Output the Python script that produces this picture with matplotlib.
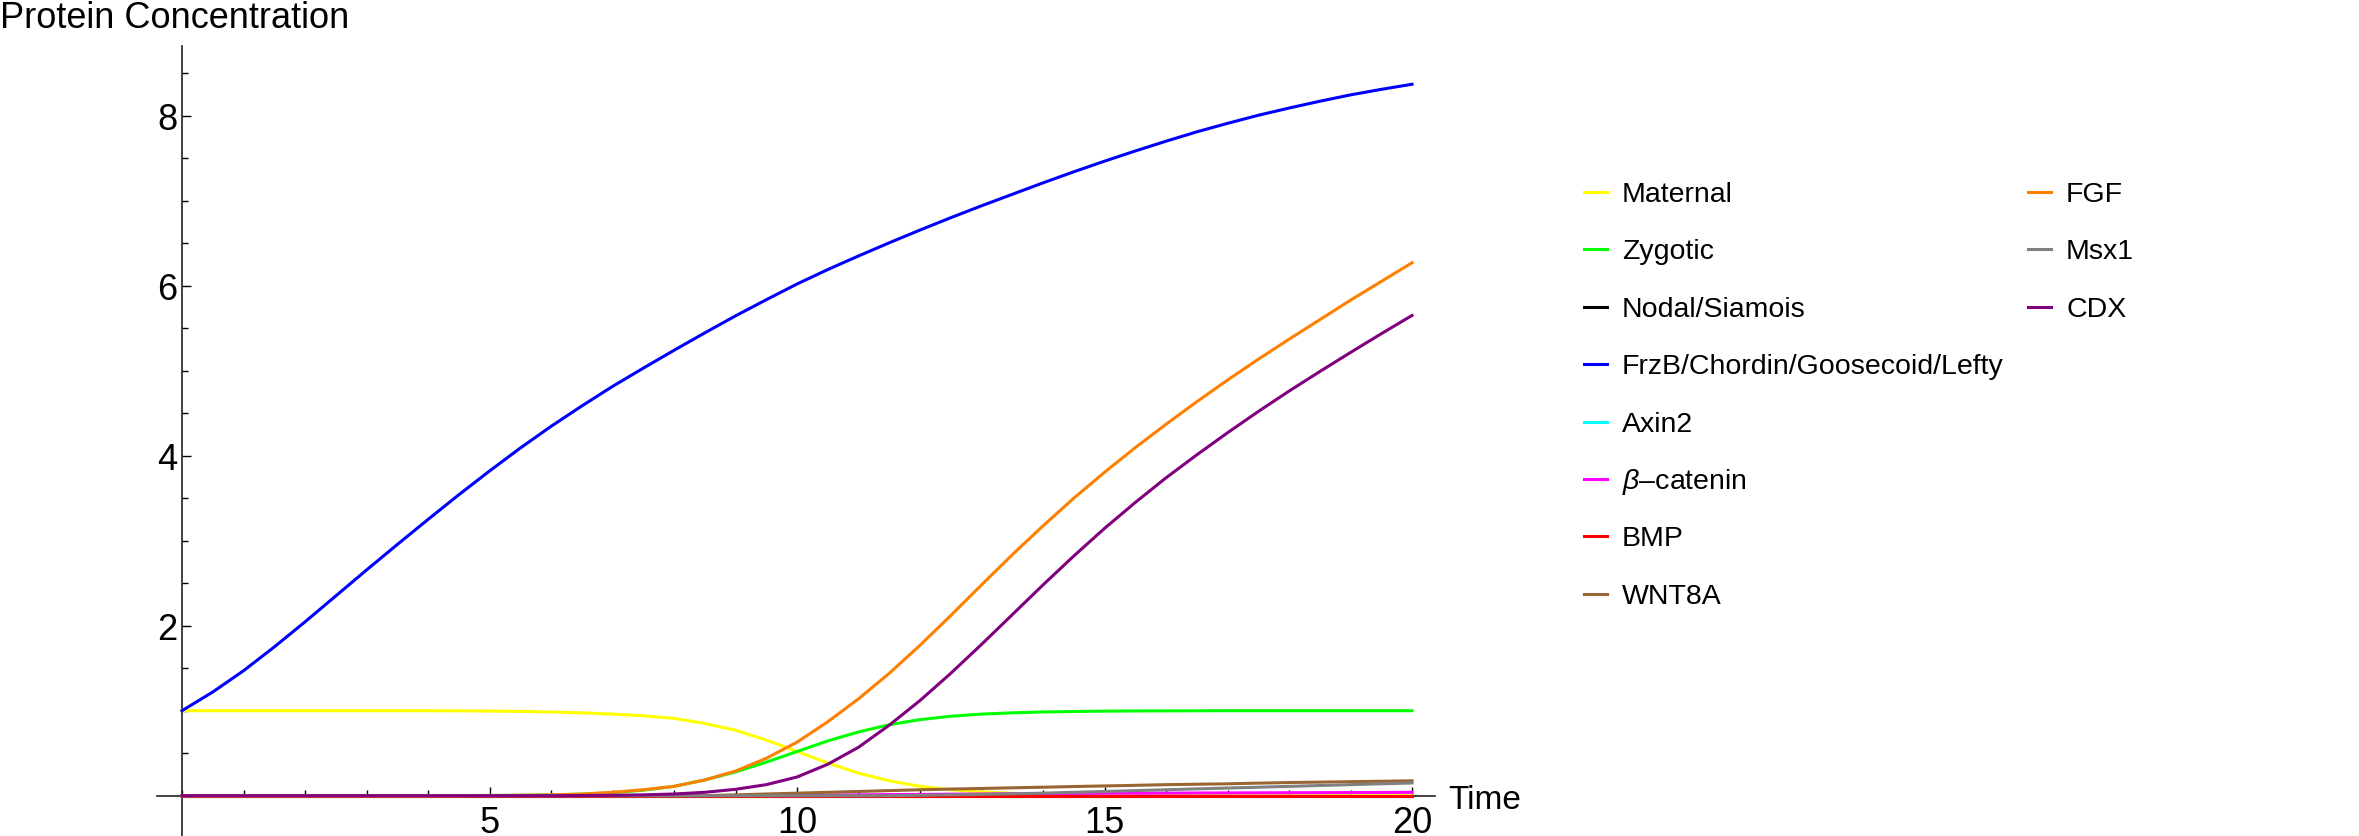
import matplotlib
matplotlib.use("Agg")
import matplotlib.pyplot as plt
from matplotlib.lines import Line2D
from matplotlib.ticker import MultipleLocator

plt.rcParams['font.family'] = ['Liberation Sans', 'DejaVu Sans']
plt.rcParams['mathtext.fontset'] = 'custom'
plt.rcParams['mathtext.it'] = 'Liberation Sans:italic'
plt.rcParams['mathtext.rm'] = 'Liberation Sans'

# valores (cada 0.5 de tiempo)
tiempo = [i * 0.5 for i in range(41)]
maternal = [1.0, 1.0, 1.0, 1.0, 1.0, 1.0, 1.0, 1.0, 1.0, 0.998,
            0.996, 0.992, 0.985, 0.975, 0.96, 0.94, 0.91, 0.85, 0.77, 0.655,
            0.52, 0.385, 0.265, 0.175, 0.11, 0.07, 0.045, 0.028, 0.018, 0.011,
            0.007, 0.004, 0.002, 0.001, 0, 0, 0, 0, 0, 0, 0]
zygotic = [0, 0, 0, 0, 0, 0, 0, 0, 0, 0.001,
           0.002, 0.004, 0.008, 0.018, 0.035, 0.065, 0.11, 0.185, 0.28, 0.395,
           0.52, 0.645, 0.75, 0.835, 0.895, 0.935, 0.96, 0.975, 0.985, 0.991,
           0.995, 0.997, 0.998, 0.999, 1.0, 1.0, 1.0, 1.0, 1.0, 1.0, 1.0]
nodal = [0] * 41
frzb = [1.0, 1.22, 1.47, 1.75, 2.045, 2.35, 2.655, 2.955, 3.25, 3.54,
        3.82, 4.09, 4.345, 4.585, 4.815, 5.03, 5.24, 5.445, 5.645, 5.835,
        6.02, 6.19, 6.35, 6.505, 6.655, 6.80, 6.94, 7.075, 7.21, 7.34,
        7.465, 7.585, 7.70, 7.81, 7.91, 8.005, 8.09, 8.17, 8.245, 8.31, 8.37]
axin2 = [0] * 41
bcatenin = [0] * 20 + [0.005, 0.008, 0.01, 0.013, 0.015, 0.018, 0.02, 0.023, 0.025, 0.027,
                       0.028, 0.029, 0.03, 0.032, 0.033, 0.034, 0.035, 0.036, 0.037, 0.038,
                       0.04]
bmp = [0] * 41
wnt8a = [0] * 18 + [0.01, 0.02, 0.03, 0.04, 0.05, 0.06, 0.07, 0.078, 0.085, 0.093,
                    0.1, 0.108, 0.115, 0.122, 0.13, 0.135, 0.14, 0.148, 0.155, 0.16,
                    0.165, 0.17, 0.175]
fgf = [0, 0, 0, 0, 0, 0, 0, 0, 0, 0.0015,
       0.003, 0.006, 0.01, 0.02, 0.04, 0.07, 0.11, 0.185, 0.29, 0.44,
       0.63, 0.87, 1.14, 1.44, 1.77, 2.12, 2.48, 2.835, 3.175, 3.50,
       3.805, 4.095, 4.37, 4.635, 4.89, 5.135, 5.37, 5.60, 5.83, 6.05, 6.27]
msx1 = [0] * 24 + [0.005, 0.01, 0.015, 0.022, 0.03, 0.04, 0.05, 0.06, 0.07, 0.08,
                   0.09, 0.1, 0.11, 0.12, 0.13, 0.14, 0.15]
cdx = [0, 0, 0, 0, 0, 0, 0, 0, 0, 0,
       0, 0, 0, 0.002, 0.005, 0.01, 0.02, 0.04, 0.075, 0.13,
       0.22, 0.37, 0.57, 0.83, 1.12, 1.44, 1.78, 2.13, 2.48, 2.82,
       3.145, 3.45, 3.74, 4.01, 4.27, 4.52, 4.76, 4.99, 5.215, 5.435, 5.65]

nombres = ['Maternal', 'Zygotic', 'Nodal/Siamois', 'FrzB/Chordin/Goosecoid/Lefty',
           'Axin2', r'$\it{\beta}$–catenin', 'BMP', 'WNT8A', 'FGF', 'Msx1', 'CDX']
series = [maternal, zygotic, nodal, frzb, axin2, bcatenin, bmp, wnt8a, fgf, msx1, cdx]
colores = ['#ffff00', '#00ff00', '#000000', '#0000ff', '#00ffff', '#ff00ff',
           '#ff0000', '#996633', '#ff8000', '#808080', '#800080']

W, H = 2359, 837
fig = plt.figure(figsize=(W / 100, H / 100), dpi=100)
ax = fig.add_axes([157.4 / W, 0, 1277.4 / W, 790 / H])

for valores, color in zip(series, colores):
    ax.plot(tiempo, valores, color=color, lw=2.2, zorder=3)

ax.set_xlim(-0.4, 20.37)
ax.set_ylim(-0.474, 8.82)
ax.spines['top'].set_visible(False)
ax.spines['right'].set_visible(False)
ax.spines['left'].set_position(('data', 0))
ax.spines['bottom'].set_position(('data', 0))
for s in ['left', 'bottom']:
    ax.spines[s].set_linewidth(1.2)
    ax.spines[s].set_color('#222222')

ax.xaxis.set_minor_locator(MultipleLocator(1))
ax.yaxis.set_minor_locator(MultipleLocator(0.5))
ax.set_xticks([5, 10, 15, 20])
ax.set_yticks([2, 4, 6, 8])
ax.tick_params(which='major', direction='in', length=6.5, width=1.0, labelsize=26)
ax.tick_params(which='minor', direction='in', length=4, width=1.0)
ax.tick_params(axis='x', which='major', pad=7)
ax.tick_params(axis='y', which='major', pad=3.6)

fig.text(0, 1 - 27.7 / H, 'Protein Concentration', fontsize=26, va='baseline', ha='left')
fig.text(1448 / W, 1 - 809 / H, 'Time', fontsize=24, va='baseline', ha='left')

# leyenda dibujada a mano (8 entradas + 3 entradas)
col_x = [1584, 2028]
for i, (nombre, color) in enumerate(zip(nombres, colores)):
    col = 0 if i < 8 else 1
    fila = i if i < 8 else i - 8
    y = 193 + 57.4 * fila
    x0 = col_x[col]
    fig.add_artist(Line2D([x0 / W, (x0 + 23) / W], [1 - y / H, 1 - y / H],
                          transform=fig.transFigure, color=color, lw=2.2))
    fig.text((x0 + 38) / W, 1 - (y + 9) / H, nombre, fontsize=20.5,
             va='baseline', ha='left')

fig.savefig('out.png', dpi=100)
